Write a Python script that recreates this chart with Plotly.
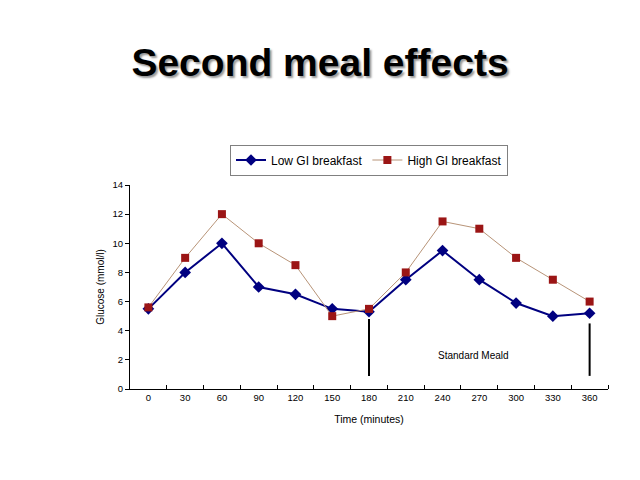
import plotly.graph_objects as go

time_min = [0, 30, 60, 90, 120, 150, 180, 210, 240, 270, 300, 330, 360]
time_labels = ["0", "30", "60", "90", "120", "150", "180", "210", "240", "270", "300", "330", "360"]
low_gi = [5.5, 8.0, 10.0, 7.0, 6.5, 5.5, 5.3, 7.5, 9.5, 7.5, 5.9, 5.0, 5.2]
high_gi = [5.6, 9.0, 12.0, 10.0, 8.5, 5.0, 5.5, 8.0, 11.5, 11.0, 9.0, 7.5, 6.0]
meal_times = [180, 360]
meal_line_top = [4.8, 4.5]
meal_line_bottom = [0.9, 0.9]
meal_label = "Standard Meald"
meal_label_x = 265
meal_label_y = 2.3
y_ticks = [0, 2, 4, 6, 8, 10, 12, 14]
boundary_ticks = [t + 15 for t in time_min]

fig = go.Figure()
fig.add_trace(go.Scatter(
    x=time_min, y=low_gi, name="Low GI breakfast", mode="lines+markers",
    line=dict(color="#000080", width=2),
    marker=dict(symbol="diamond", size=9, color="#000080"),
))
fig.add_trace(go.Scatter(
    x=time_min, y=high_gi, name="High GI breakfast", mode="lines+markers",
    line=dict(color="#b89478", width=1),
    marker=dict(symbol="square", size=8, color="#9b1515"),
))

for t, top, bot in zip(meal_times, meal_line_top, meal_line_bottom):
    fig.add_shape(type="line", xref="x", yref="y", x0=t, x1=t, y0=bot, y1=top,
                  line=dict(color="black", width=2))

fig.add_annotation(x=meal_label_x, y=meal_label_y, xref="x", yref="y", text=meal_label,
                   showarrow=False, font=dict(family="Arial", size=10, color="black"))

fig.update_layout(
    width=640, height=480,
    paper_bgcolor="white", plot_bgcolor="white",
    margin=dict(l=130, r=32, t=185, b=91),
    title=dict(text="<b>Second meal effects</b>", x=0.5, xanchor="center",
               y=1 - 62/480, yanchor="middle",
               font=dict(family="Arial", size=39, color="black",
                         shadow="2px 2px 2px #999999")),
    legend=dict(orientation="h", x=0.5, xanchor="center", y=1 + 25/204, yanchor="middle",
                bordercolor="#808080", borderwidth=1, bgcolor="white",
                font=dict(family="Arial", size=12, color="black"),
                itemwidth=30, tracegroupgap=0),
    showlegend=True,
    xaxis=dict(range=[-15, 375], tickvals=time_min, ticktext=time_labels,
               showgrid=False, zeroline=False,
               showline=True, linecolor="black", linewidth=1,
               ticks="", ticklen=0,
               minor=dict(tickmode="array", tickvals=boundary_ticks, ticks="inside",
                          ticklen=4, tickcolor="black", showgrid=False),
               tickfont=dict(family="Arial", size=9.5, color="black"),
               title=dict(text="Time (minutes)", font=dict(family="Arial", size=10.5, color="black"),
                          standoff=13)),
    yaxis=dict(range=[0, 14], tickvals=y_ticks, showgrid=False, zeroline=False,
               showline=True, linecolor="black", linewidth=1,
               ticks="outside", ticklen=4, tickcolor="black",
               tickfont=dict(family="Arial", size=9.5, color="black"),
               title=dict(text="Glucose (mmol/l)", font=dict(family="Arial", size=10, color="black"),
                          standoff=6)),
)

fig.write_html("out.html", config={"displayModeBar": False},
               post_script="document.body.style.margin='0';")
